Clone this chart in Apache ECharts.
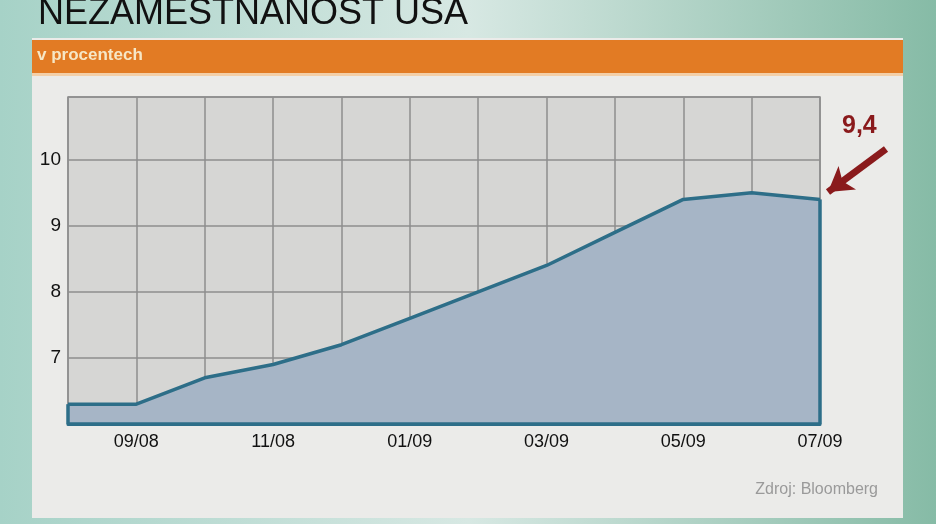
<!DOCTYPE html>
<html><head><meta charset="utf-8">
<script src="https://cdn.jsdelivr.net/npm/echarts@6/dist/echarts.min.js"></script>
<style>html,body{margin:0;padding:0;}#c{width:936px;height:524px;}</style>
</head><body><div id="c"></div>
<script>
const months = ['08/08','09/08','10/08','11/08','12/08','01/09','02/09','03/09','04/09','05/09','06/09','07/09'];
const unemployment = [6.3, 6.3, 6.7, 6.9, 7.2, 7.6, 8.0, 8.4, 8.9, 9.4, 9.5, 9.4];
const yTicks = [7, 8, 9, 10];
const titleText = 'NEZAMESTNANOST USA';
const subtitleText = 'v procentech';
const sourceText = 'Zdroj: Bloomberg';
const lastLabel = '9,4';

const chart = echarts.init(document.getElementById('c'));
const lineColor = '#2d6e88';
const last = months.length - 1;
chart.setOption({
  animation: false,
  backgroundColor: {type:'linear', x:0, y:0, x2:1, y2:0, colorStops:[
    {offset:0, color:'#a6d2c7'}, {offset:0.5, color:'#d7e8e3'}, {offset:1, color:'#86bba6'}]},
  graphic: [
    {type:'rect', z:-10, shape:{x:32, y:38, width:871, height:480}, style:{fill:'#ebebe9'}},
    {type:'rect', z:-9, shape:{x:32, y:40, width:871, height:33}, style:{fill:'#e27b24'}},
    {type:'rect', z:-9, shape:{x:32, y:73, width:871, height:3}, style:{fill:'#f3cfa8'}},
    {type:'text', left:38, top:-4, style:{text:titleText, font:'36px "Liberation Sans", Arial, sans-serif', fill:'#111'}},
    {type:'text', left:37, top:47, style:{text:subtitleText, font:'bold 17px "Liberation Sans", Arial, sans-serif', fill:'#f6e7c6'}},
    {type:'text', left:842, top:114, style:{text:lastLabel, font:'bold 25px "Liberation Sans", Arial, sans-serif', fill:'#8a1a1c'}},
    {type:'text', right:58, top:482, style:{text:sourceText, font:'16px "Liberation Sans Narrow", "Liberation Sans", sans-serif', fill:'#9a9a9a'}}
  ],
  grid: {left:68, right:116, top:97, bottom:100, show:true, backgroundColor:'#d6d6d4', borderColor:'#8e8e8e', borderWidth:1.5},
  xAxis: {
    type:'category', data:months, boundaryGap:false,
    axisLine:{show:true, lineStyle:{color:lineColor, width:3}},
    axisTick:{show:false},
    axisLabel:{interval:(i)=>i%2===1, color:'#111', fontSize:18, margin:9, fontFamily:'"Liberation Sans Narrow", "Liberation Sans", sans-serif'},
    splitLine:{show:true, interval:0, lineStyle:{color:'#8e8e8e', width:1.5}}
  },
  yAxis: {
    type:'value', min:6, max:10.95, interval:1,
    axisLine:{show:false}, axisTick:{show:false},
    axisLabel:{color:'#111', fontSize:19, margin:7, fontFamily:'"Liberation Sans", Arial, sans-serif',
      formatter:(v)=> yTicks.indexOf(v) >= 0 ? String(v) : ''},
    splitLine:{show:true, lineStyle:{color:'#8e8e8e', width:1.5}}
  },
  series: [{
    type:'line', data:unemployment, symbol:'none', smooth:false,
    lineStyle:{color:lineColor, width:3.5},
    areaStyle:{color:'#a6b5c6', opacity:1},
    markLine:{
      silent:true, symbol:['none','none'], label:{show:false},
      lineStyle:{color:lineColor, width:3.5, type:'solid'},
      data:[
        [{coord:[months[0], 6]}, {coord:[months[0], unemployment[0]]}],
        [{coord:[months[last], 6]}, {coord:[months[last], unemployment[last]]}],
        [{coord:[months[0], 6]}, {coord:[months[last], 6]}]
      ]
    }
  }, {
    type:'line', data:[],
    markLine:{
      silent:true, symbol:['arrow','none'], symbolSize:[22,24], label:{show:false},
      lineStyle:{color:'#8a1a1c', width:7, type:'solid'},
      data:[[{x:828, y:192}, {x:886, y:149}]]
    }
  }]
});
</script></body></html>
